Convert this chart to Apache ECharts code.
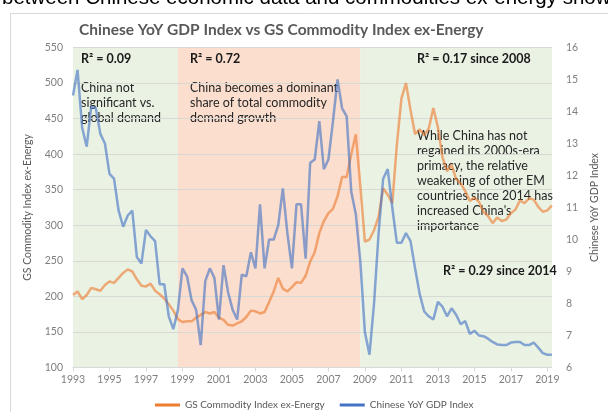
<!DOCTYPE html>
<html><head><meta charset="utf-8">
<script src="https://cdn.jsdelivr.net/npm/echarts@6/dist/echarts.min.js"></script>
<style>html,body{margin:0;padding:0;background:#fff}#c{width:608px;height:412px}</style>
</head><body><div id="c"></div>
<script>
// Quarterly categories 1993Q1 .. 2019Q2
const startYear = 1993;
const quarterCount = 106;
const quarters = [];
for (let i = 0; i < quarterCount; i++) quarters.push((startYear + Math.floor(i / 4)) + 'Q' + (i % 4 + 1));

// GS Commodity Index ex-Energy (left axis)
const gsCommodity = [
  202,207,196,202,212,210,208,216,221,219,
  226,233,238,235,224,215,214,218,208,203,
  197,189,180,168,164,165,165,170,174,178,
  176,178,170,167,160,159,162,165,171,180,
  179,176,178,192,207,226,211,207,213,220,
  219,229,249,262,289,306,317,323,341,368,
  368,400,428,355,277,280,293,312,352,343,
  331,413,478,500,462,428,435,427,436,465,
  438,396,376,385,365,359,348,334,339,333,
  319,313,303,311,306,308,317,322,335,331,
  338,336,326,319,321,328
];
// Chinese YoY GDP Index (right axis)
const chinaGdp = [
  14.5,15.3,13.5,12.9,14.15,14.1,13.3,13.0,12.05,11.9,
  10.9,10.4,10.75,10.9,9.45,9.25,10.3,10.1,9.95,8.6,
  8.6,7.6,7.2,7.8,9.1,8.85,8.1,7.8,6.7,8.7,
  9.1,8.8,7.5,9.2,8.35,7.8,7.5,8.9,8.85,9.6,
  9.1,11.1,9.1,10.0,10.0,10.45,11.6,10.2,9.1,11.1,
  11.1,9.4,12.4,12.5,13.7,12.2,12.5,13.7,15.0,14.1,
  13.85,11.5,10.8,9.3,7.1,6.4,8.0,10.2,11.9,12.2,
  11.0,9.9,9.9,10.2,9.95,9.1,8.3,7.75,7.6,7.5,
  8.05,7.9,7.6,7.85,7.65,7.35,7.45,7.05,7.15,7.0,
  6.98,6.9,6.8,6.72,6.7,6.7,6.78,6.8,6.8,6.7,
  6.7,6.78,6.62,6.45,6.4,6.4
];
const seriesNames = ['GS Commodity Index ex-Energy', 'Chinese YoY GDP Index'];
const leftAxis = { min: 100, max: 550, interval: 50 };
const rightAxis = { min: 6, max: 16, interval: 1 };
// Regime bands: [start quarter, end quarter, kind]
const regimes = [['1993Q1','1998Q4','green'],['1998Q4','2008Q4','salmon'],['2008Q4','2019Q2','green']];

const bandColors = { green: '#eaf2e4', salmon: '#fbdecd' };
const font = 'Lato, "Open Sans", sans-serif';
const chart = echarts.init(document.getElementById('c'), null, { renderer: 'canvas' });

chart.setOption({
  animation: false,
  backgroundColor: '#ffffff',
  title: {
    text: 'Chinese YoY GDP Index vs GS Commodity Index ex-Energy',
    left: 74, top: 17,
    textStyle: { fontFamily: font, fontSize: 15.5, fontWeight: 'bold', color: '#595959' }
  },
  grid: { left: 73, right: 50.4, top: 47.5, bottom: 44.5, containLabel: false },
  legend: {
    data: seriesNames, left: 150, top: 395, itemWidth: 25, itemHeight: 3, itemGap: 15,
    icon: 'rect',
    textStyle: { fontFamily: font, fontSize: 10, color: '#595959' }
  },
  xAxis: {
    type: 'category', data: quarters, boundaryGap: false,
    axisLine: { show: true, lineStyle: { color: '#d9d9d9' } },
    axisTick: { show: true, interval: 7, length: 4, lineStyle: { color: '#d9d9d9' } },
    axisLabel: { interval: 7, formatter: v => v.slice(0, 4), color: '#7f7f7f', fontFamily: font, fontSize: 10.5, margin: 7 },
    splitLine: { show: false }
  },
  yAxis: [{
    type: 'value', min: leftAxis.min, max: leftAxis.max, interval: leftAxis.interval,
    name: seriesNames[0], nameLocation: 'middle', nameGap: 40,
    nameTextStyle: { fontFamily: font, fontSize: 10.5, color: '#595959' },
    axisLine: { show: false }, axisTick: { show: false },
    axisLabel: { color: '#7f7f7f', fontFamily: font, fontSize: 10.5, margin: 10 },
    splitLine: { show: true, lineStyle: { color: '#d6d9d4', width: 1 } }
  }, {
    type: 'value', min: rightAxis.min, max: rightAxis.max, interval: rightAxis.interval,
    name: seriesNames[1], nameLocation: 'middle', nameGap: 33,
    nameTextStyle: { fontFamily: font, fontSize: 10.5, color: '#595959' },
    axisLine: { show: false }, axisTick: { show: false },
    axisLabel: { color: '#7f7f7f', fontFamily: font, fontSize: 10.5, margin: 14 },
    splitLine: { show: false }
  }],
  series: [{
    name: seriesNames[0], type: 'line', yAxisIndex: 0, data: gsCommodity,
    symbol: 'none', color: '#ED7D31',
    lineStyle: { width: 2.5, color: '#ED7D31', opacity: 0.62 },
    itemStyle: { color: '#ED7D31' },
    markArea: {
      silent: true, z: -1,
      data: regimes.map(r => [{ xAxis: r[0], itemStyle: { color: bandColors[r[2]] } }, { xAxis: r[1] }])
    }
  }, {
    name: seriesNames[1], type: 'line', yAxisIndex: 1, data: chinaGdp,
    symbol: 'none', color: '#4472C4',
    lineStyle: { width: 2.5, color: '#4472C4', opacity: 0.62 },
    itemStyle: { color: '#4472C4' }
  }],
  graphic: [
    { type: 'rect', shape: { x: 10.5, y: 13.5, width: 620, height: 420 }, style: { fill: 'none', stroke: '#d9d9d9', lineWidth: 1 }, silent: true, z: -10 },
    { type: 'text', left: 2, top: -12, style: { text: 'between Chinese economic data and commodities ex-energy show', font: '20.5px "Liberation Sans", Arial, sans-serif', fill: '#000' } },
    { type: 'text', left: 81, top: 52, style: { text: 'R² = 0.09', font: 'bold 12.5px ' + font, fill: '#1a1a1a' } },
    { type: 'text', left: 81, top: 80, style: { text: 'China not\nsignificant vs.\nglobal demand', font: '12.5px ' + font, fill: '#262626', lineHeight: 15 } },
    { type: 'text', left: 190, top: 52, style: { text: 'R² = 0.72', font: 'bold 12.5px ' + font, fill: '#1a1a1a' } },
    { type: 'text', left: 190, top: 80, style: { text: 'China becomes a dominant\nshare of total commodity\ndemand growth', font: '12.5px ' + font, fill: '#262626', lineHeight: 15 } },
    { type: 'text', left: 417, top: 52, style: { text: 'R² = 0.17 since 2008', font: 'bold 12.5px ' + font, fill: '#1a1a1a' } },
    { type: 'text', left: 417, top: 128, style: { text: "While China has not\nregained its 2000s-era\nprimacy, the relative\nweakening of other EM\ncountries since 2014 has\nincreased China's\nimportance", font: '12.5px ' + font, fill: '#262626', lineHeight: 15 } },
    { type: 'text', left: 443, top: 264, style: { text: 'R² = 0.29 since 2014', font: 'bold 12.5px ' + font, fill: '#1a1a1a' } }
  ]
});
</script></body></html>
